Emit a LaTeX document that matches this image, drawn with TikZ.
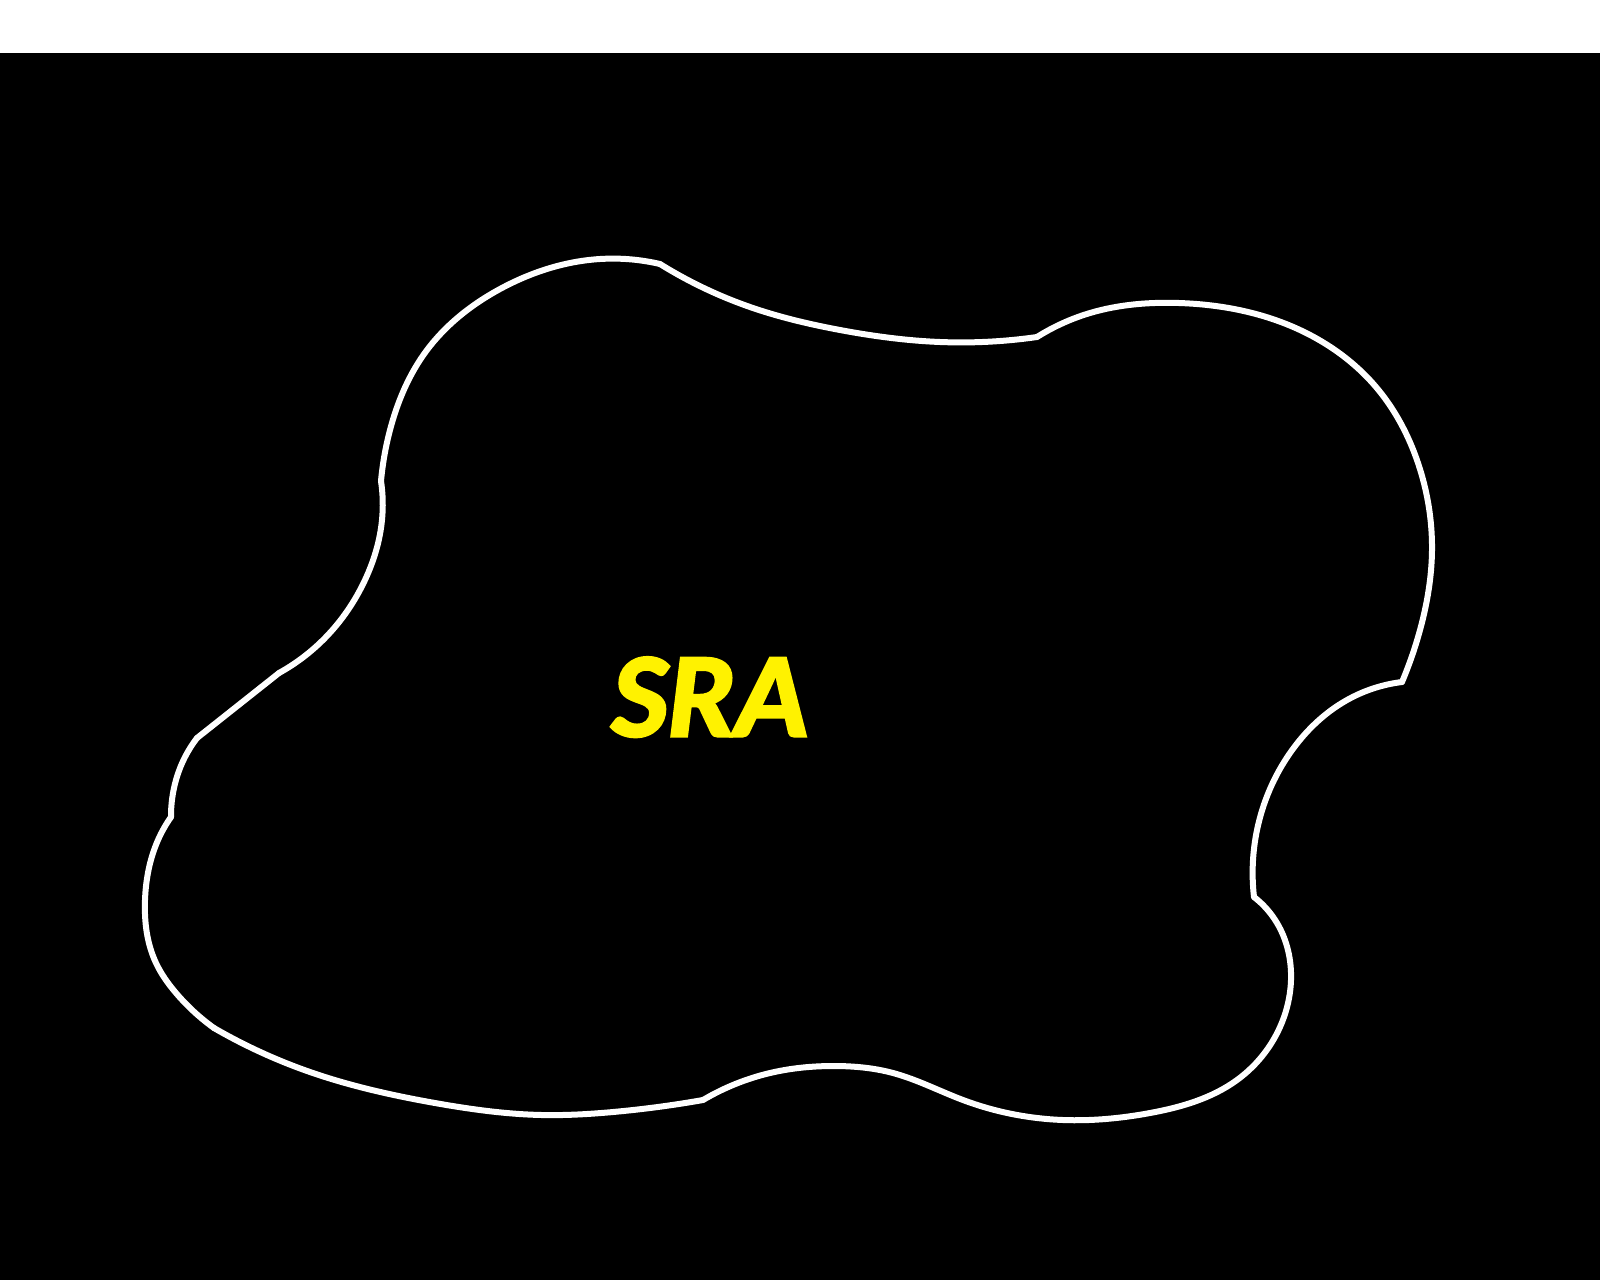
\documentclass[tikz,border=0pt]{standalone}
\usepackage{fontspec}
\usetikzlibrary{hobby}
\newfontfamily\labelfont{Carlito}[BoldItalicFeatures={FakeBold=2.5}]
\definecolor{sray}{RGB}{255,242,0}
\begin{document}
\begin{tikzpicture}[x=0.5pt,y=-0.5pt,
  outline/.style={draw=white,line width=3pt,line cap=round,line join=round},
  labeltext/.style={font=\labelfont\bfseries\itshape\fontsize{60}{72}\selectfont,text=sray,inner sep=0pt}]
\useasboundingbox (0,0) rectangle (1600,1280);
\fill[white] (0,0) rectangle (1600,53);
\fill[black] (0,53) rectangle (1600,1280);
\coordinate (ka) at (660,264);
\coordinate (kl) at (381,481);
\coordinate (kb) at (279,673);
\coordinate (kc) at (197,738);
\coordinate (kd) at (171,817);
\coordinate (ke) at (214,1028);
\coordinate (kf) at (703,1100);
\coordinate (kg) at (1254,897);
\coordinate (kh) at (1402,682);
\coordinate (ki) at (1037,337);
\draw[outline] (ka) to[curve through={(600,259) .. (500,289) .. (427,350) .. (390,430)}] (kl);
\draw[outline] (kl) to[curve through={(382,520) .. (365,580) .. (325,638)}] (kb);
\draw[outline] (kb) -- (kc);
\draw[outline] (kc) to[curve through={(185,757) .. (176,780)}] (kd);
\draw[outline] (kd) to[curve through={(158,840) .. (145,900) .. (156,963) .. (176,993)}] (ke);
\draw[outline] (ke) to[curve through={(310,1072) .. (435,1103) .. (542,1115) .. (613,1112)}] (kf);
\draw[outline] (kf) to[curve through={(770,1073) .. (835,1066) .. (893,1073) .. (963,1100) .. (1063,1120) .. (1150,1113) .. (1237,1080) .. (1284,1017) .. (1291,980) .. (1277,923)}] (kg);
\draw[outline] (kg) to[curve through={(1257,830) .. (1290,753) .. (1347,700)}] (kh);
\draw[outline] (kh) to[curve through={(1420,630) .. (1432,550) .. (1418,463) .. (1376,387) .. (1300,330) .. (1179,303) .. (1090,313)}] (ki);
\draw[outline] (ki) to[curve through={(940,342) .. (840,330) .. (750,307)}] (ka);
\node[labeltext,anchor=base] (sra) at (710,736) {SRA};
\end{tikzpicture}
\end{document}
